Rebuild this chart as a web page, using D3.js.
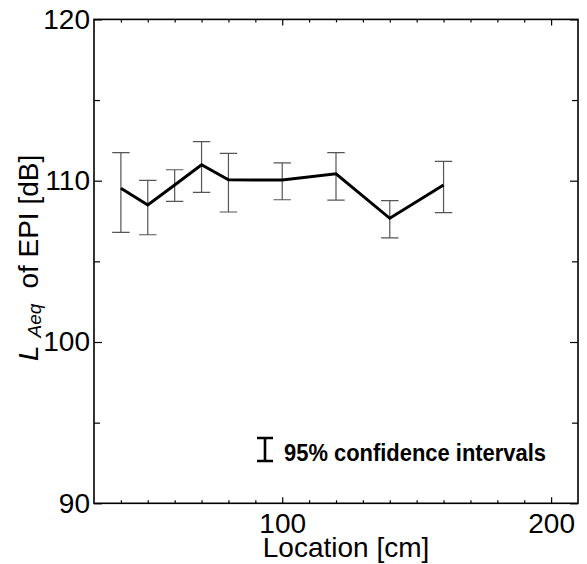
<!DOCTYPE html>
<html>
<head>
<meta charset="utf-8">
<script src="https://cdn.jsdelivr.net/npm/d3@7"></script>
<style>
  html, body { margin: 0; padding: 0; background: #fff; }
  svg { display: block; }
  text { font-family: "Liberation Sans", Arial, Helvetica, sans-serif; fill: #000; }
</style>
</head>
<body>
<svg id="chart" width="587" height="564"></svg>
<script>
// ---- data ----
const locations = [40, 50, 60, 70, 80, 100, 120, 140, 160];          // cm
const laeq      = [109.53, 108.49, 109.73, 110.99, 110.06, 110.04, 110.43, 107.67, 109.73]; // dB
const ciUpper   = [111.74, 110.02, 110.68, 112.42, 111.70, 111.10, 111.74, 108.76, 111.20];
const ciLower   = [106.80, 106.65, 108.72, 109.28, 108.06, 108.82, 108.80, 106.45, 108.02];
const xMajorTicks = [100, 200];
const xMinorTicks = [40, 50, 60, 70, 80, 90, 110, 120, 130, 140, 150, 160, 170, 180, 190];
const yMajorTicks = [90, 100, 110, 120];
const yMinorTicks = [95, 105, 115];
const xLabel = "Location [cm]";
const legendLabel = "95% confidence intervals";

// ---- layout ----
const svg = d3.select("#chart");
const L = 94, R = 578, T = 19.4, B = 503.3;
const x = d3.scaleLinear().domain([30, 210]).range([L, R]);
const y = d3.scaleLinear().domain([90, 120]).range([B, T]);

function strip(g) { g.select(".domain").remove(); g.selectAll(".tick line").attr("stroke", "#000").attr("stroke-width", 1.2); }

// bottom axis
svg.append("g").attr("transform", `translate(0,${B})`)
  .call(d3.axisBottom(x).tickValues(xMinorTicks).tickSize(-3).tickFormat("")).call(strip);
svg.append("g").attr("transform", `translate(0,${B})`)
  .call(d3.axisBottom(x).tickValues(xMajorTicks).tickSize(-6).tickPadding(10).tickFormat(d3.format("d")))
  .call(strip)
  .call(g => g.selectAll("text").attr("font-size", 28).attr("fill", "#000"));
// top axis
svg.append("g").attr("transform", `translate(0,${T})`)
  .call(d3.axisTop(x).tickValues(xMinorTicks).tickSize(-3).tickFormat("")).call(strip);
svg.append("g").attr("transform", `translate(0,${T})`)
  .call(d3.axisTop(x).tickValues(xMajorTicks).tickSize(-6).tickFormat("")).call(strip);
// left axis
svg.append("g").attr("transform", `translate(${L},0)`)
  .call(d3.axisLeft(y).tickValues(yMinorTicks).tickSize(-6).tickFormat("")).call(strip);
svg.append("g").attr("transform", `translate(${L},0)`)
  .call(d3.axisLeft(y).tickValues(yMajorTicks).tickSize(-8).tickPadding(4).tickFormat(d3.format("d")))
  .call(strip)
  .call(g => g.selectAll("text").attr("font-size", 28).attr("fill", "#000"));
// right axis
svg.append("g").attr("transform", `translate(${R},0)`)
  .call(d3.axisRight(y).tickValues(yMinorTicks).tickSize(-6).tickFormat("")).call(strip);
svg.append("g").attr("transform", `translate(${R},0)`)
  .call(d3.axisRight(y).tickValues(yMajorTicks).tickSize(-8).tickFormat("")).call(strip);

// frame
svg.append("rect").attr("x", L).attr("y", T).attr("width", R - L).attr("height", B - T)
  .attr("fill", "none").attr("stroke", "#000").attr("stroke-width", 1.6);

// data table
const data = locations.map((loc, i) => ({ loc, v: laeq[i], hi: ciUpper[i], lo: ciLower[i] }));

// error bars
const capW = 8.7;
const eb = svg.append("g").attr("stroke", "#555").attr("stroke-width", 1.2).attr("fill", "none");
eb.selectAll("path").data(data).join("path")
  .attr("d", d => {
    const cx = x(d.loc), y1 = y(d.hi), y2 = y(d.lo);
    return `M${cx},${y1}V${y2}M${cx - capW},${y1}H${cx + capW}M${cx - capW},${y2}H${cx + capW}`;
  });

// main line
svg.append("path").datum(data)
  .attr("fill", "none").attr("stroke", "#000").attr("stroke-width", 3)
  .attr("stroke-linejoin", "miter")
  .attr("d", d3.line().x(d => x(d.loc)).y(d => y(d.v)));

// legend
svg.append("path")
  .attr("d", "M265,438V461M257,438H273M257,461H273")
  .attr("stroke", "#000").attr("stroke-width", 2.6).attr("fill", "none");
svg.append("text").attr("x", 284).attr("y", 461)
  .attr("font-size", 24).attr("font-weight", "bold")
  .attr("textLength", 262).attr("lengthAdjust", "spacingAndGlyphs")
  .text(legendLabel);

// x label
svg.append("text").attr("x", 346).attr("y", 557).attr("text-anchor", "middle")
  .attr("font-size", 28).text(xLabel);

// y label
const yl = svg.append("text").attr("transform", "translate(38,361) rotate(-90)")
  .attr("font-size", 28);
yl.append("tspan").attr("font-style", "italic").text("L");
yl.append("tspan").attr("font-style", "italic").attr("font-size", 19).attr("dx", 8).attr("dy", 3).text("Aeq");
yl.append("tspan").attr("dx", 15).attr("dy", -3).text("of EPI [dB]");
</script>
</body>
</html>
